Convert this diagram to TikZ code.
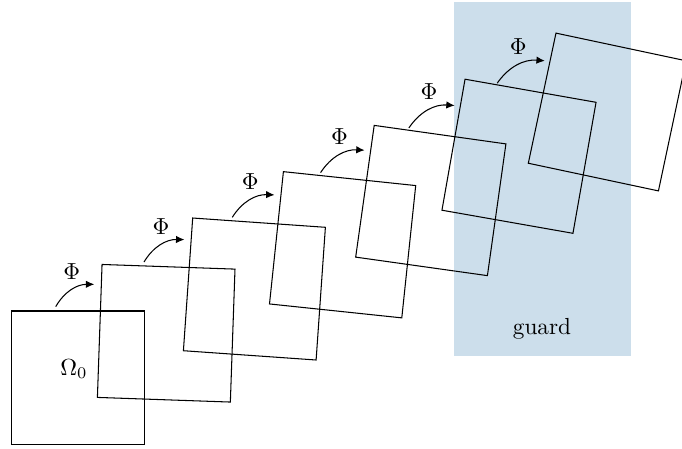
\documentclass[tikz,border=0pt]{standalone}
\usetikzlibrary{arrows.meta}
\definecolor{guardblue}{RGB}{204,222,235}
\begin{document}
\begin{tikzpicture}[x=0.43pt,y=-0.43pt,
  sq/.style={draw, minimum size=57.2pt, inner sep=0pt, outer sep=0pt, line width=0.45pt},
  phiarrow/.style={-{Latex[length=3.6pt,width=3.2pt]}, line width=0.45pt, bend left=30},
  lbl/.style={inner sep=0pt}]
\useasboundingbox (0,0) rectangle (682,448);
% guard strip behind the last iterates
\fill[guardblue] (454,1.7) rectangle (630.7,355.7);
% iterated domains, each turned a little further
\foreach \k in {0,...,6} {
  \node[sq, rotate=-2*\k] (s\k) at ({78+88.2*\k},{377.5-44.25*\k}) {};
}
% the map Phi between consecutive domains
\foreach \k in {0,...,5} {
  \coordinate (a\k) at ({55.7+88.3*\k},{306.7-44.7*\k});
  \coordinate (b\k) at ({94.3+90.1*\k},{284.3-44.7*\k});
  \draw[phiarrow] (a\k) to (b\k);
  \node[lbl] (phi\k) at ({71.7+89.3*\k},{271.7-45*\k}) {$\Phi$};
}
\node[lbl] (omega) at (74,369) {$\Omega_0$};
\node[lbl] (guard) at (542,329) {guard};
\end{tikzpicture}
\end{document}
